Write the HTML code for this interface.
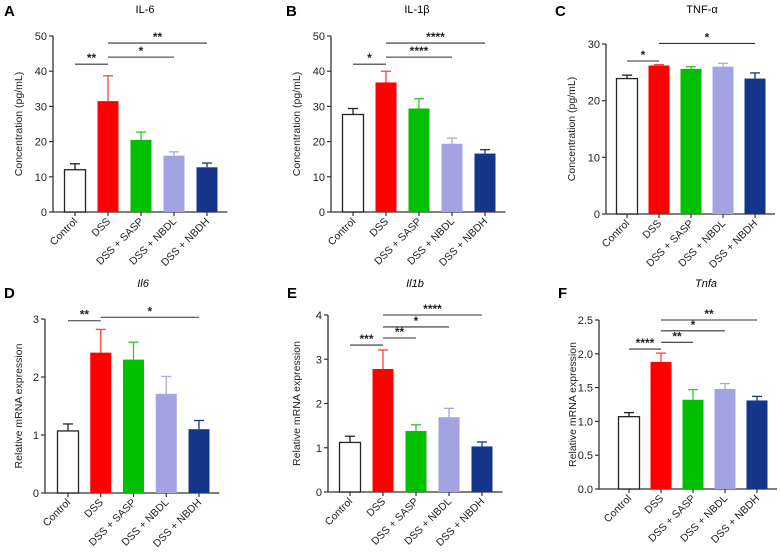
<!DOCTYPE html>
<html><head><meta charset="utf-8"><style>
body{margin:0;background:#fff;}
svg{display:block;font-family:"Liberation Sans",Arial,sans-serif;}
</style></head><body>
<svg id="fig" width="780" height="552" viewBox="0 0 780 552"></svg>
<script>
const categories=["Control","DSS","DSS + SASP","DSS + NBDL","DSS + NBDH"];
const colors=["#ffffff","#ff0000","#00c000","#a3a3e3","#15358a"];
const errColors=["#222222","#ff4040","#30c830","#a8a8e8","#15358a"];
const valsA=[12,31.5,20.5,16,12.7], errA=[1.7,7.2,2.2,1.1,1.2];
const valsB=[27.7,36.8,29.4,19.4,16.6], errB=[1.7,3.2,2.8,1.6,1.1];
const valsC=[23.9,26.2,25.6,26.0,23.9], errC=[0.6,0.15,0.4,0.6,1.0];
const valsD=[1.07,2.42,2.3,1.71,1.1], errD=[0.12,0.4,0.3,0.3,0.15];
const valsE=[1.12,2.78,1.38,1.69,1.03], errE=[0.14,0.43,0.14,0.2,0.1];
const valsF=[1.07,1.88,1.32,1.48,1.31], errF=[0.06,0.13,0.15,0.08,0.06];
const ticksA=[0,10,20,30,40,50], ticksB=[0,10,20,30,40,50], ticksC=[0,10,20,30];
const ticksD=[0,1,2,3], ticksE=[0,1,2,3,4], ticksF=["0.0","0.5","1.0","1.5","2.0","2.5"];
const sigA=[[0,1,"**",42],[1,3,"*",44],[1,4,"**",48]];
const sigB=[[0,1,"*",42],[1,3,"****",44],[1,4,"****",48]];
const sigC=[[0,1,"*",27],[1,4,"*",30.1]];
const sigD=[[0,1,"**",2.97],[1,4,"*",3.03]];
const sigE=[[0,1,"***",3.32],[1,2,"**",3.48],[1,3,"*",3.73],[1,4,"****",4.0]];
const sigF=[[0,1,"****",2.07],[1,2,"**",2.17],[1,3,"*",2.34],[1,4,"**",2.5]];

const NS="http://www.w3.org/2000/svg";
const svg=document.getElementById("fig");
function mk(tag,attrs,parent,text){const e=document.createElementNS(NS,tag);for(const k in attrs)e.setAttribute(k,attrs[k]);if(text!==undefined)e.textContent=text;(parent||svg).appendChild(e);return e;}

function panel(cfg){
  const g=mk("g",{});
  
  
  const ymax=parseFloat(cfg.ticks[cfg.ticks.length-1]);
  const y=v=>cfg.y0-(v/ymax)*(cfg.y0-cfg.yTop);
  const x=i=>cfg.bx0+i*cfg.step;
  const L=mk("text",{x:cfg.lx,y:cfg.ly,"font-size":15,"font-weight":"bold"},g,cfg.letter);
  
  
  const T=mk("text",{x:cfg.tx,y:cfg.ty,"font-size":11,"text-anchor":"middle","font-style":cfg.italic?"italic":"normal"},g,cfg.title);
  
  
  const ax=cfg.ax, xEnd=x(4)+cfg.step/2+4;
  const ya=mk("line",{x1:ax,y1:cfg.yTop,x2:ax,y2:cfg.y0,stroke:"#333","stroke-width":1.3},g);
  
  
  const xa=mk("line",{x1:ax,y1:cfg.y0,x2:xEnd,y2:cfg.y0,stroke:"#333","stroke-width":1.3},g);
  
  
  cfg.ticks.forEach(t=>{
    const v=parseFloat(t),yy=y(v);
    mk("line",{x1:ax-4,y1:yy,x2:ax,y2:yy,stroke:"#333","stroke-width":1.2},g);
    const tl=mk("text",{x:ax-6,y:yy+4,"font-size":11,"text-anchor":"end",fill:"#222"},g,String(t));
    
    
  });
  const yt=mk("text",{x:0,y:0,"font-size":10.5,"text-anchor":"middle",fill:"#222",transform:`translate(${cfg.ytx},${(cfg.yTop+cfg.y0)/2}) rotate(-90)`},g,cfg.ytitle);
  
  
  const bw=21;
  cfg.vals.forEach((v,i)=>{
    const cx=x(i),top=y(v+cfg.err[i]);
    const eb=mk("line",{x1:cx,y1:top,x2:cx,y2:y(v),stroke:errColors[i],"stroke-width":1.3},g);
    
    
    mk("line",{x1:cx-5,y1:top,x2:cx+5,y2:top,stroke:errColors[i],"stroke-width":1.3},g);
    const r=mk("rect",{x:cx-bw/2,y:y(v),width:bw,height:cfg.y0-y(v),fill:colors[i],stroke:i==0?"#222":colors[i],"stroke-width":i==0?1.3:0},g);
    
    
    mk("line",{x1:cx,y1:cfg.y0,x2:cx,y2:cfg.y0+4,stroke:"#333","stroke-width":1.2},g);
    const xl=mk("text",{x:0,y:0,"font-size":10.5,"text-anchor":"end",fill:"#222",transform:`translate(${cx+3},${cfg.y0+10}) rotate(-45)`},g,categories[i]);
    
    
  });
  cfg.sig.forEach(s=>{
    const yy=y(s[3]);
    const ln=mk("line",{x1:x(s[0]),y1:yy,x2:x(s[1]),y2:yy,stroke:"#333","stroke-width":1.1},g);
    
    
    const st=mk("text",{x:(x(s[0])+x(s[1]))/2,y:yy-2,"font-size":12,"font-weight":"bold","text-anchor":"middle",fill:"#222"},g,s[2]);
    
    
  });
}
const ct="Concentration (pg/mL)", mt="Relative mRNA expression";
panel({letter:"A",lx:4,ly:16,title:"IL-6",tx:145,ty:13,ax:53,yTop:36,y0:212,bx0:75,step:33,ticks:ticksA,vals:valsA,err:errA,sig:sigA,ytitle:ct,ytx:22});
panel({letter:"B",lx:286,ly:16,title:"IL-1β",tx:417,ty:13,ax:331,yTop:36,y0:212,bx0:353,step:33,ticks:ticksB,vals:valsB,err:errB,sig:sigB,ytitle:ct,ytx:300});
panel({letter:"C",lx:555,ly:16,title:"TNF-α",tx:702,ty:13,ax:606,yTop:44,y0:214,bx0:627,step:32,ticks:ticksC,vals:valsC,err:errC,sig:sigC,ytitle:ct,ytx:575});
panel({letter:"D",lx:4,ly:298,title:"Il6",tx:143,ty:287,italic:true,ax:45,yTop:319,y0:493,bx0:68,step:32.75,ticks:ticksD,vals:valsD,err:errD,sig:sigD,ytitle:mt,ytx:22});
panel({letter:"E",lx:287,ly:298,title:"Il1b",tx:415,ty:287,italic:true,ax:328,yTop:315,y0:492,bx0:350,step:33,ticks:ticksE,vals:valsE,err:errE,sig:sigE,ytitle:mt,ytx:300});
panel({letter:"F",lx:558,ly:298,title:"Tnfa",tx:706,ty:287,italic:true,ax:599,yTop:320,y0:489,bx0:629,step:32,ticks:ticksF,vals:valsF,err:errF,sig:sigF,ytitle:mt,ytx:576});
</script>
</body></html>
